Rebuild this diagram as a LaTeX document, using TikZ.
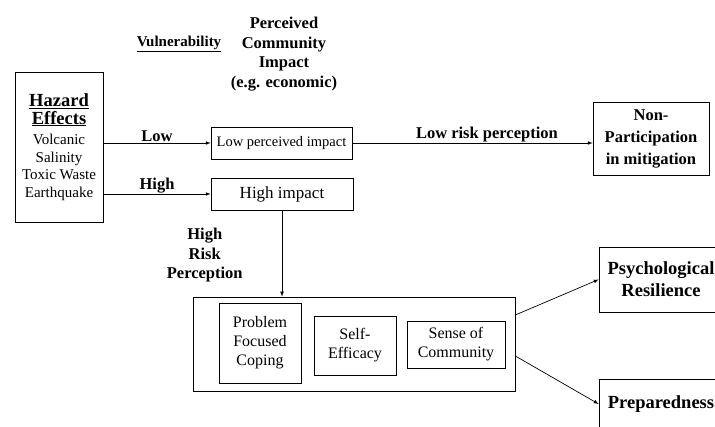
\documentclass[tikz,border=0pt]{standalone}
\usepackage{fontspec}
\setmainfont{Liberation Serif}[BoldFont={Liberation Serif Bold}]
\usetikzlibrary{arrows,positioning,calc}

\newcommand{\hzbf}{\fontsize{18.5}{20}\selectfont\bfseries}

\begin{document}
\begin{tikzpicture}[
    x=1pt, y=-1pt,
    box/.style={rectangle, draw, line width=0.7pt, inner sep=0pt, align=center},
    arrow/.style={-latex, line width=0.7pt},
    lbl/.style={align=center, inner sep=1pt, font=\fontsize{16.5}{19.5}\selectfont\bfseries}
]
    \useasboundingbox (0,0) rectangle (715,427);
    \clip (0,0) rectangle (715,427);

    % left column
    \node[box, minimum width=88pt, minimum height=150pt, font=\fontsize{15}{17.5}\selectfont] (hazard) at (59,147) {
        {\hzbf\underline{Hazard}}\\
        {\hzbf\underline{Effects}}\\[3pt]
        Volcanic\\ Salinity\\ Toxic Waste\\ Earthquake
    };

    \node[lbl, font=\fontsize{15}{18}\selectfont\bfseries] (vuln) at (179,44) {\underline{Vulnerability}};
    \node[lbl] (impact) at (284,54) {Perceived\\ Community\\ Impact\\ (e.g. economic)};

    % impact boxes
    \node[box, minimum width=141pt, minimum height=32pt, font=\fontsize{14.5}{17}\selectfont] (low) at (281.5,143) {Low perceived impact};
    \node[box, minimum width=142pt, minimum height=32pt, font=\fontsize{17}{20}\selectfont] (high) at (282,194) {High impact};

    \node[box, minimum width=116pt, minimum height=73pt, font=\fontsize{16.5}{22}\selectfont\bfseries] (nopart) at (651,138.5) {Non-\\ Participation\\ in mitigation};

    % coping factors
    \node[box, minimum width=322pt, minimum height=94pt] (factors) at (354,344) {};
    \node[box, minimum width=82pt, minimum height=80pt, font=\fontsize{16}{19}\selectfont] (coping) at (260,343) {Problem\\ Focused\\ Coping};
    \node[box, minimum width=82pt, minimum height=59pt, font=\fontsize{16}{19}\selectfont] (efficacy) at (355,345.5) {Self-\\ Efficacy};
    \node[box, minimum width=98pt, minimum height=47pt, font=\fontsize{16}{19}\selectfont] (sense) at (456,344.5) {Sense of\\ Community};

    % outcomes
    \node[box, minimum width=124pt, minimum height=65pt, font=\fontsize{18.5}{22}\selectfont\bfseries] (psych) at (661,279.5) {Psychological\\ Resilience};
    \node[box, minimum width=124pt, minimum height=50pt, font=\fontsize{18.5}{22}\selectfont\bfseries] (prep) at (661,404) {Preparedness};

    \draw[arrow] (hazard.east |- low.west) -- node[lbl, above] {Low} (low.west);
    \draw[arrow] (hazard.east |- high.west) -- node[lbl, above] {High} (high.west);
    \draw[arrow] (low.east) -- node[lbl, above, pos=0.56] {Low risk perception} (low.east -| nopart.west);
    \draw[arrow] (high.south) -- node[lbl, left=38pt, yshift=-2pt] {High\\ Risk\\ Perception} (high.south |- factors.north);
    \draw[arrow] ([yshift=29pt]factors.east) -- (psych.west);
    \draw[arrow] ([yshift=-12pt]factors.east) -- (prep.west);
\end{tikzpicture}
\end{document}
